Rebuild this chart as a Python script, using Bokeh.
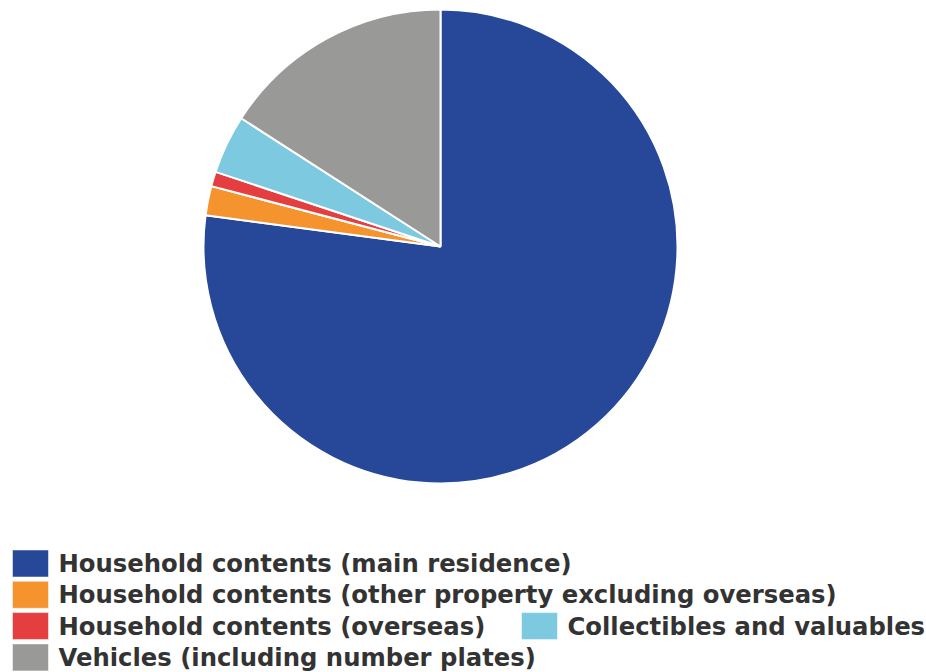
import math
from bokeh.plotting import figure
from bokeh.models import Range1d, ColumnDataSource
from bokeh.core.properties import value
from bokeh.embed import file_html
from bokeh.resources import INLINE

categories = [
    "Household contents (main residence)",
    "Household contents (other property excluding overseas)",
    "Household contents (overseas)",
    "Collectibles and valuables",
    "Vehicles (including number plates)",
]
shares = [77.1, 2.0, 1.0, 4.0, 15.9]
colors = ["#274898", "#F5942F", "#E53E41", "#7DC9E0", "#999998"]

W, H = 926, 672
p = figure(width=W, height=H, output_backend="svg", toolbar_location=None,
           x_range=Range1d(0, W), y_range=Range1d(0, H), min_border=0,
           x_axis_location=None, y_axis_location=None, outline_line_color=None,
           background_fill_color="white", border_fill_color="white")
p.grid.visible = False

# pie, starting at 12 o'clock, going clockwise
total = sum(shares)
starts, ends = [], []
cum = 0.0
for s in shares:
    a0 = math.pi / 2 - 2 * math.pi * cum / total
    cum += s
    a1 = math.pi / 2 - 2 * math.pi * cum / total
    starts.append(a1)
    ends.append(a0)

cx, cy, r = 440, 426, 237
src = ColumnDataSource(dict(start=starts, end=ends, color=colors, name=categories))
p.wedge(x=cx, y=cy, radius=r, start_angle="start", end_angle="end",
        fill_color="color", line_color="white", line_width=2, source=src)

# legend (flowing layout)
row_pitch = 31.3
row0 = 109
slots = [(0, 0), (1, 0), (2, 0), (2, 1), (3, 0)]
col_x = [12, 521]
lx, ly, tx = [], [], []
for (row, col) in slots:
    y = row0 - row * row_pitch
    lx.append(col_x[col] + 18)
    ly.append(y)
    tx.append(col_x[col] + 46)
p.rect(x=lx, y=ly, width=36, height=27, fill_color=colors, line_color="white", line_alpha=0.5, line_width=1)
p.text(x=tx, y=ly, text=categories, text_font=value("DejaVu Sans"), text_font_style="bold",
       text_font_size="24.3px", text_color="#333333", text_baseline="middle", text_align="left")

open("out.html", "w").write(file_html(p, INLINE))
